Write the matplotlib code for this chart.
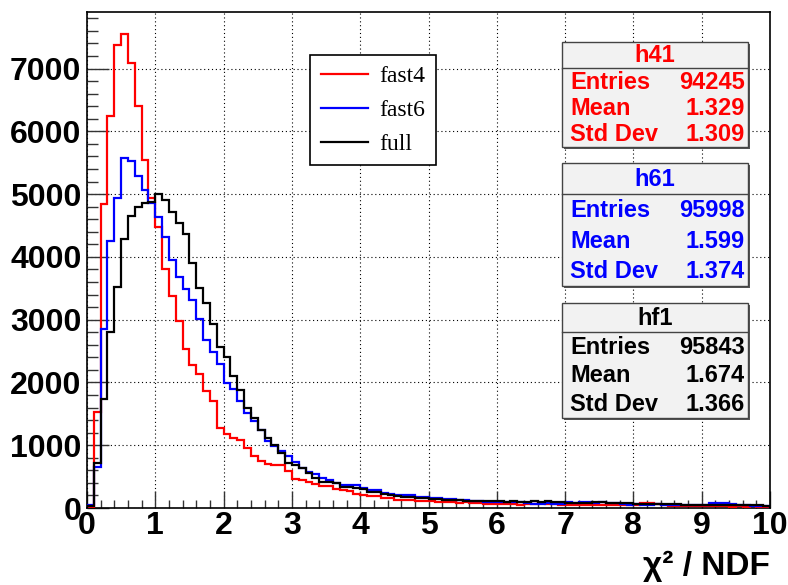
import numpy as np
import matplotlib.pyplot as plt
from matplotlib.patches import Rectangle
from matplotlib.lines import Line2D
from matplotlib.ticker import MultipleLocator

# chi2/NDF histograms, 100 bins from 0 to 10
bin_edges = np.linspace(0, 10, 101)

fast4 = [20, 1530, 4840, 6250, 7370, 7550, 7090, 6400, 5540, 4930,
         4480, 3810, 3370, 2980, 2530, 2280, 2130, 1870, 1710, 1280,
         1180, 1120, 1080, 960, 830, 750, 700, 690, 690, 590,
         455, 440, 420, 375, 350, 345, 300, 290, 265, 220,
         200, 195, 190, 160, 155, 130, 125, 120, 110, 105,
         105, 100, 95, 90, 85, 90, 80, 75, 70, 65,
         65, 60, 70, 55, 60, 65, 75, 70, 60, 55,
         50, 45, 55, 50, 40, 50, 45, 55, 40, 45,
         40, 80, 75, 70, 45, 35, 30, 35, 30, 25,
         30, 25, 35, 30, 20, 25, 15, 25, 20, 20]

fast6 = [40, 650, 2850, 4250, 4940, 5580, 5530, 5280, 5060, 4860,
         4630, 4310, 3950, 3680, 3490, 3320, 3010, 2680, 2480, 2300,
         1990, 1890, 1700, 1520, 1390, 1240, 1070, 990, 900, 830,
         740, 640, 570, 535, 480, 450, 405, 370, 365, 360,
         325, 290, 280, 235, 225, 215, 210, 205, 180, 175,
         160, 160, 145, 140, 135, 120, 115, 110, 100, 95,
         95, 90, 95, 90, 85, 70, 65, 80, 60, 65,
         90, 85, 90, 95, 85, 90, 80, 85, 60, 55,
         60, 50, 55, 60, 45, 50, 55, 40, 45, 40,
         40, 80, 85, 75, 60, 55, 50, 35, 30, 30]

full = [30, 710, 1740, 2800, 3520, 4280, 4650, 4800, 4850, 4880,
        5000, 4900, 4720, 4540, 4370, 3900, 3500, 3270, 2930, 2570,
        2400, 2100, 1880, 1600, 1430, 1240, 1110, 1005, 870, 710,
        690, 630, 560, 480, 420, 415, 400, 340, 330, 320,
        300, 260, 255, 220, 215, 185, 180, 175, 160, 155,
        140, 140, 125, 125, 120, 115, 115, 110, 105, 105,
        105, 100, 105, 100, 100, 105, 100, 105, 100, 95,
        80, 80, 85, 80, 90, 90, 85, 80, 75, 75,
        65, 65, 60, 65, 60, 65, 60, 55, 50, 50,
        50, 45, 50, 45, 45, 40, 45, 40, 40, 35]

series_labels = ["fast4", "fast6", "full"]
series_colors = ["#ff0000", "#0000ff", "#000000"]

stat_names = ["h41", "h61", "hf1"]
stat_entries = [94245, 95998, 95843]
stat_means = [1.329, 1.599, 1.674]
stat_stds = [1.309, 1.374, 1.366]

W, H = 788, 585


def px(x, y):
    # pixel position (top-left origin) -> figure fraction
    return x / W, 1 - y / H


fig = plt.figure(figsize=(W / 100, H / 100), dpi=100)
ax = fig.add_axes([87 / W, 1 - 508 / H, (770 - 87) / W, (508 - 12) / H])

handles = []
for vals, col, lab in zip([fast4, fast6, full], series_colors, series_labels):
    h = ax.stairs(vals, bin_edges, baseline=0, fill=False, color=col,
                  linewidth=1.6, label=lab, zorder=3)
    handles.append(h)

ax.set_xlim(0, 10)
ax.set_ylim(0, 7900)
ax.xaxis.set_major_locator(MultipleLocator(1))
ax.xaxis.set_minor_locator(MultipleLocator(0.2))
ax.yaxis.set_major_locator(MultipleLocator(1000))
ax.yaxis.set_minor_locator(MultipleLocator(200))
ax.grid(True, which="major", color="black", linestyle=(0, (1, 2.5)),
        linewidth=0.8)
ax.tick_params(axis="both", which="both", direction="in", top=False,
               right=False, width=1.0, color="#333333")
ax.tick_params(axis="y", which="major", length=16, pad=4)
ax.tick_params(axis="y", which="minor", length=8)
ax.tick_params(axis="x", which="major", length=12, pad=2)
ax.tick_params(axis="x", which="minor", length=6)
for lab in ax.get_xticklabels() + ax.get_yticklabels():
    lab.set_fontfamily("Liberation Sans")
    lab.set_fontweight("bold")
    lab.set_fontsize(23)
for sp in ax.spines.values():
    sp.set_linewidth(1.2)

fig.text(*px(770, 566), "χ² / NDF", ha="right", va="center",
         fontsize=24, fontweight="bold", family="Liberation Sans")

leg = ax.legend(handles=handles, labels=series_labels, loc="upper left",
                bbox_to_anchor=px(310, 55), bbox_transform=fig.transFigure,
                prop={"family": "Liberation Serif", "size": 17},
                frameon=True, fancybox=False, framealpha=1, edgecolor="black",
                borderaxespad=0, borderpad=0.45, handlelength=2.0,
                handletextpad=0.5, labelspacing=0.52)
leg.get_frame().set_linewidth(1.2)
leg.set_zorder(5)

# stat boxes: (top, separator, bottom) in pixels
box_left, box_right = 562, 748
box_rows = [(42, 68, 147), (163, 194, 286), (303, 332, 418)]

for i, (top, sep, bot) in enumerate(box_rows):
    col = series_colors[i]
    x0, y0 = px(box_left, bot)
    x1, y1 = px(box_right, top)
    sx, sy = 2 / W, 2 / H
    fig.add_artist(Rectangle((x0 + sx, y0 - sy), x1 - x0, y1 - y0,
                             transform=fig.transFigure, facecolor="#555555",
                             edgecolor="none", zorder=6))
    fig.add_artist(Rectangle((x0, y0), x1 - x0, y1 - y0,
                             transform=fig.transFigure, facecolor="#f2f2f2",
                             edgecolor="#444444", linewidth=1.0, zorder=7))
    fig.add_artist(Line2D([x0, x1], [px(0, sep)[1]] * 2,
                          transform=fig.transFigure, color="#444444",
                          linewidth=1.0, zorder=8))
    txt = dict(fontsize=17, fontweight="bold", family="Liberation Sans",
               color=col, va="center", zorder=9)
    fig.text(*px((box_left + box_right) / 2, (top + sep) / 2 + 1),
             stat_names[i], ha="center", **txt)
    row_h = (bot - sep) / 3
    rows = [("Entries", f"{stat_entries[i]}"),
            ("Mean", f"{stat_means[i]:.3f}"),
            ("Std Dev", f"{stat_stds[i]:.3f}")]
    for j, (name, val) in enumerate(rows):
        yy = sep + row_h * (j + 0.5) + 1
        fig.text(*px(box_left + 8, yy), name, ha="left", **txt)
        fig.text(*px(box_right - 3, yy), val, ha="right", **txt)

fig.savefig("out.png", dpi=100)
